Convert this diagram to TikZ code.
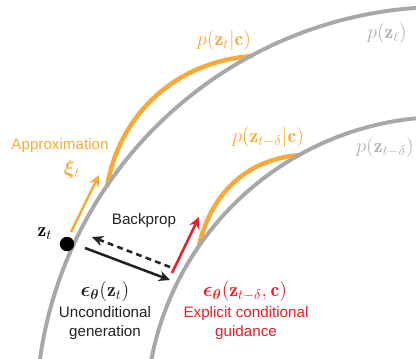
\documentclass[tikz,border=0pt]{standalone}
\usepackage{amsmath,bm}
\usepackage{fontspec}
\newfontfamily\labelfont{Liberation Sans}
\usetikzlibrary{positioning, arrows.meta}
\definecolor{CurveGray}{RGB}{168,168,168}
\definecolor{LabelGray}{RGB}{178,178,178}
\definecolor{ApproxOrange}{RGB}{248,170,56}
\definecolor{GuideRed}{RGB}{234,30,40}
\definecolor{TextBlack}{RGB}{34,34,34}

\begin{document}
\begin{tikzpicture}[
        x=0.025cm, y=0.025cm,
        manifold/.style={CurveGray, line width=2.8pt},
        shifted/.style={ApproxOrange, line width=3.2pt},
        arrow/.style={-{Stealth[length=2.8mm, width=2.6mm]}, line width=1.8pt},
        txt/.style={font=\labelfont\fontsize{10.8}{13.4}\selectfont, align=center, inner sep=0pt, TextBlack},
        eq/.style={font=\fontsize{14}{16}\selectfont, inner sep=0pt}
    ]
    \useasboundingbox (0,0) rectangle (416,358);
    \clip (0,0) rectangle (416,358);

    % Distribuciones condicionales
    \draw[shifted] (107,171) .. controls (118,238) and (170,296) .. (253,302);
    \draw[shifted] (199,113) .. controls (210,158) and (240,198) .. (300,203);

    % Variedades
    \coordinate (ctr) at (445,-58);
    \draw[manifold] (ctr) ++(173:409) arc[start angle=173, end angle=86, radius=10.225cm];
    \draw[manifold] (ctr) ++(170:299) arc[start angle=170, end angle=84, radius=7.475cm];

    % Puntos
    \node[circle, fill=black, inner sep=0pt, minimum size=0.36cm] (zt) at (67,114) {};
    \coordinate (apxstart) at (71,126);
    \coordinate (apxend) at (99,183);
    \coordinate (uncstart) at (85,110);
    \coordinate (uncend) at (170,78);
    \coordinate (bpstart) at (170,91);
    \coordinate (bpend) at (92,121);
    \coordinate (gdstart) at (172,85);
    \coordinate (gdend) at (199,141);

    % Etiquetas
    \node[eq] (zlab) at (45,124) {$\mathbf{z}_t$};
    \node[eq, ApproxOrange] (xi) at (72,189) {$\bm{\xi}_t$};
    \node[txt, ApproxOrange] (apx) at (60,212) {Approximation};
    \node[txt] (bp) at (144,137) {Backprop};
    \node[eq, TextBlack] (epsu) at (105,67) {$\bm{\epsilon}_{\bm{\theta}}(\mathbf{z}_t)$};
    \node[txt] (unc) at (105,35) {Unconditional\\generation};
    \node[eq, GuideRed] (epsc) at (245,67) {$\bm{\epsilon}_{\bm{\theta}}(\mathbf{z}_{t-\delta},\mathbf{c})$};
    \node[txt, GuideRed] (gd) at (246,35) {Explicit conditional\\guidance};
    \node[eq, ApproxOrange] (pc) at (224,318) {$p(\mathbf{z}_t|\mathbf{c})$};
    \node[eq, ApproxOrange] (pdc) at (268,221) {$p(\mathbf{z}_{t-\delta}|\mathbf{c})$};
    \node[eq, LabelGray] (p) at (387,325) {$p(\mathbf{z}_t)$};
    \node[eq, LabelGray] (pd) at (385,211) {$p(\mathbf{z}_{t-\delta})$};

    % Flechas
    \draw[arrow, ApproxOrange] (apxstart) -- (apxend);
    \draw[arrow, TextBlack] (uncstart) -- (uncend);
    \draw[arrow, TextBlack, dash pattern=on 4.2pt off 3pt] (bpstart) -- (bpend);
    \draw[arrow, GuideRed] (gdstart) -- (gdend);

\end{tikzpicture}
\end{document}
